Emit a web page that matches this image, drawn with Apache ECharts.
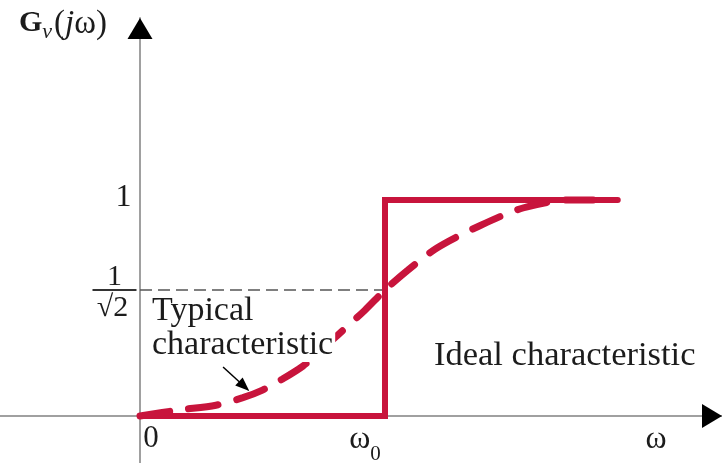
<!DOCTYPE html>
<html>
<head>
<meta charset="utf-8">
<script src="https://cdn.jsdelivr.net/npm/echarts@6/dist/echarts.min.js"></script>
<style>
html,body{margin:0;padding:0;background:#fff;}
#chart{width:722px;height:463px;}
</style>
</head>
<body>
<div id="chart"></div>
<script>
// ---- data (x in units of ω0, y in units of |Gv|) ----
const typicalX = [0, 0.16, 0.31, 0.42, 0.50, 0.58, 0.665, 0.74, 0.816, 0.918, 1.0, 1.094, 1.212, 1.376, 1.563, 1.755, 1.85];
const typicalY = [0, 0.028, 0.05, 0.085, 0.12, 0.17, 0.231, 0.305, 0.384, 0.49, 0.583, 0.676, 0.778, 0.875, 0.963, 1.0, 1.0];
const idealX = [0, 1, 1, 1.95];
const idealY = [0, 0, 1, 1];
const halfPowerLevel = 0.583;
const halfPowerX = [0, 1];
const xTickValues = [0, 1, 2.106];
const xTickLabels = ['0', 'ω0', 'ω'];
const yTickValues = [1, halfPowerLevel];
const yTickLabels = ['1', '1/√2'];
const annotationArrow = [[0.339, 0.227], [0.425, 0.138]];

// ---- axis ranges ----
const xMin = -0.5714, xMax = 2.3755;
const yMin = -0.2176, yMax = 1.8426;

const RED = '#c8143c';
const AXIS = '#a0a0a0';
const TEXT = '#1c1c1c';
const SERIF = '"Liberation Serif", "DejaVu Serif", serif';
const CLEAR = 'rgba(0,0,0,0)';

const zip = (xs, ys) => xs.map((x, i) => [x, ys[i]]);

function xLabel(s) {
  if (s === '0') return '{z|0}';
  if (s === 'ω0') return '{w|ω}{s|0}';
  return '{o|ω}';
}
function yLabel(s) {
  if (s === '1') return '{one|1}';
  return '{sp| }\n{n|1}\n{bar| }\n{d|√2}';
}

const chart = echarts.init(document.getElementById('chart'), null, {renderer: 'canvas'});

const option = {
  animation: false,
  backgroundColor: '#fff',
  title: {
    left: 14, top: 3,
    text: '{G|G}{v|v}{p|(}{j|j}{p|ω)}',
    textStyle: {
      fontWeight: 'normal',
      rich: {
        G: {fontFamily: SERIF, fontSize: 30, fontWeight: 'bold', color: TEXT, lineHeight: 32, verticalAlign: 'top'},
        v: {fontFamily: SERIF, fontSize: 22, fontWeight: 'normal', fontStyle: 'italic', color: TEXT, lineHeight: 21, padding: [13, 2, 0, 0], verticalAlign: 'top'},
        p: {fontFamily: SERIF, fontSize: 33, fontWeight: 'normal', color: TEXT, lineHeight: 32, verticalAlign: 'top'},
        j: {fontFamily: SERIF, fontSize: 33, fontWeight: 'normal', fontStyle: 'italic', color: TEXT, lineHeight: 32, verticalAlign: 'top'}
      }
    }
  },
  grid: {left: 0, right: 0, top: 18, bottom: 0, outerBoundsMode: 'none'},
  xAxis: {
    type: 'value', min: xMin, max: xMax,
    axisLine: {show: true, onZero: true, lineStyle: {color: AXIS, width: 2}},
    axisTick: {show: false},
    splitLine: {show: false},
    axisLabel: {show: false}
  },
  yAxis: {
    type: 'value', min: yMin, max: yMax,
    axisLine: {show: true, onZero: true, lineStyle: {color: AXIS, width: 2}},
    axisTick: {show: false},
    splitLine: {show: false},
    axisLabel: {show: false}
  },
  series: [
    {
      name: 'Half-power level', type: 'line', symbol: 'none', z: 1,
      data: zip(halfPowerX, halfPowerX.map(() => halfPowerLevel)),
      lineStyle: {color: '#555', width: 1.5, type: [12, 6]},
      markLine: {
        silent: true, symbol: ['none', 'triangle'], symbolSize: [11, 14],
        label: {show: false},
        lineStyle: {color: '#000', width: 1.5, type: 'solid'},
        data: [[{coord: annotationArrow[0]}, {coord: annotationArrow[1]}]]
      }
    },
    {
      name: 'Ideal characteristic', type: 'line', symbol: 'none', z: 3,
      data: zip(idealX, idealY),
      lineStyle: {color: RED, width: 6, cap: 'round', join: 'miter'}
    },
    {
      name: 'Typical characteristic', type: 'line', symbol: 'none', smooth: 0.3, z: 4,
      data: zip(typicalX, typicalY),
      lineStyle: {color: RED, width: 7, type: [30, 19], cap: 'round'}
    },
    {
      name: 'x tick labels', type: 'scatter', symbol: 'circle', symbolSize: 1, z: 6, silent: true, clip: false,
      data: xTickValues.map((v, i) => ({value: [v, 0], name: xTickLabels[i]})),
      itemStyle: {color: CLEAR, opacity: 1},
      label: {
        show: true, position: 'bottom', distance: 7, color: TEXT,
        formatter: p => xLabel(p.name),
        rich: {
          z: {fontFamily: SERIF, fontSize: 31, lineHeight: 31, color: TEXT, padding: [0, 0, 0, 22], verticalAlign: 'top'},
          w: {fontFamily: SERIF, fontSize: 32, lineHeight: 32, color: TEXT, verticalAlign: 'top'},
          s: {fontFamily: SERIF, fontSize: 21, lineHeight: 21, color: TEXT, padding: [20, 40, 0, 0], verticalAlign: 'top'},
          o: {fontFamily: SERIF, fontSize: 32, lineHeight: 32, color: TEXT, verticalAlign: 'top'}
        }
      },
      labelLayout: {hideOverlap: false}
    },
    {
      name: 'y tick labels', type: 'scatter', symbol: 'circle', symbolSize: 1, z: 6, silent: true, clip: false,
      data: yTickValues.map((v, i) => ({value: [0, v], name: yTickLabels[i]})),
      itemStyle: {color: CLEAR, opacity: 1},
      label: {
        show: true, position: 'left', distance: 3, color: TEXT,
        formatter: p => yLabel(p.name),
        rich: {
          one: {fontFamily: SERIF, fontSize: 32, lineHeight: 32, color: TEXT, padding: [0, 5, 5, 0]},
          sp: {fontSize: 1, lineHeight: 10, height: 10, align: 'center'},
          n: {fontFamily: SERIF, fontSize: 30, lineHeight: 24, height: 24, color: TEXT, align: 'center'},
          bar: {fontSize: 2, lineHeight: 2, height: 2, width: 44, backgroundColor: '#333', align: 'center'},
          d: {fontFamily: SERIF, fontSize: 30, lineHeight: 34, height: 34, color: TEXT, align: 'center', padding: [0, 4, 0, 0]}
        }
      },
      labelLayout: {hideOverlap: false}
    },
    {
      name: 'axis arrows', type: 'custom', clip: false, z: 5, silent: true,
      data: [[xMax, 0, 0], [0, yMax, 1]],
      renderItem: function (params, api) {
        const p = api.coord([api.value(0), api.value(1)]);
        const kind = api.value(2);
        let pts;
        if (kind === 0) {
          pts = [[p[0], p[1]], [p[0] - 20, p[1] - 12], [p[0] - 20, p[1] + 12]];
        } else {
          pts = [[p[0], p[1]], [p[0] - 12.5, p[1] + 21], [p[0] + 12.5, p[1] + 21]];
        }
        return {type: 'polygon', shape: {points: pts}, style: {fill: '#000'}};
      }
    }
  ],
  graphic: [
    {type: 'text', left: 152, top: 294, silent: true, z: 20,
     style: {text: 'Typical\ncharacteristic', font: '34px ' + SERIF, lineHeight: 34, fill: TEXT,
             backgroundColor: '#fff', padding: [0, 2, 0, 0]}},
    {type: 'text', left: 434, top: 338, silent: true, z: 20,
     style: {text: 'Ideal characteristic', font: '34.5px ' + SERIF, lineHeight: 34, fill: TEXT}}
  ]
};
chart.setOption(option);
</script>
</body>
</html>
